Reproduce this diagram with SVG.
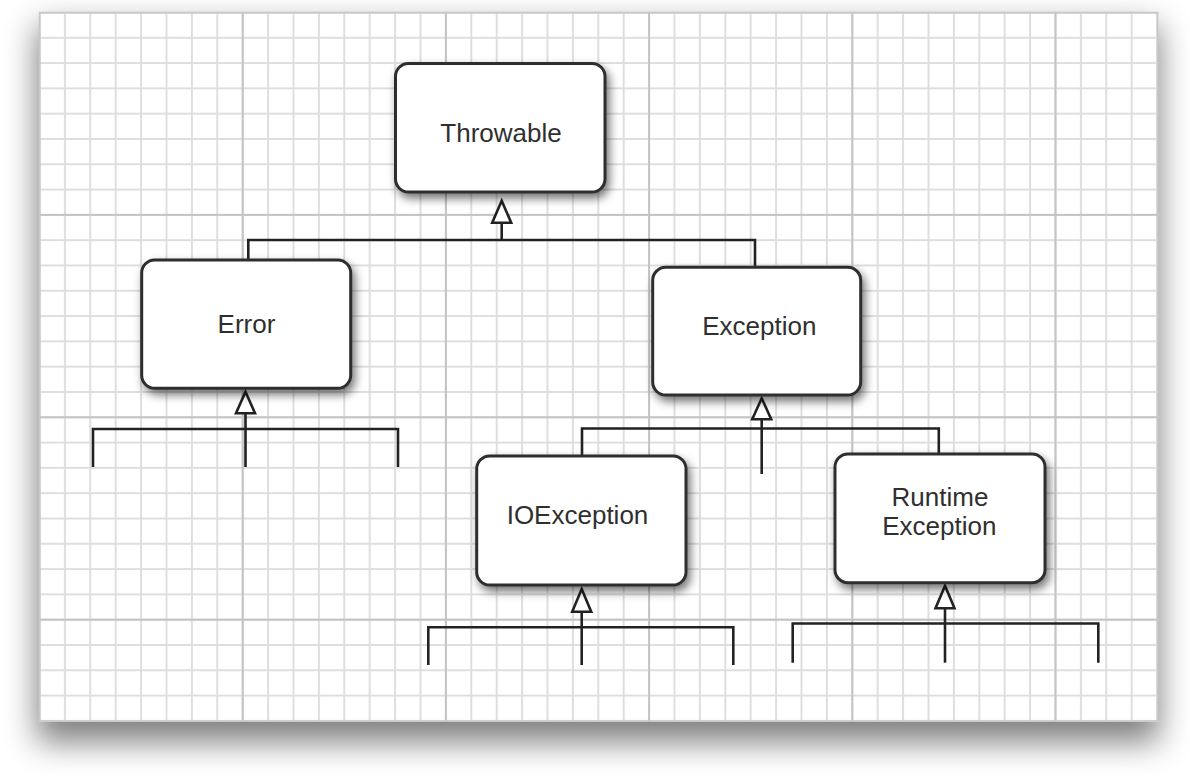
<svg xmlns="http://www.w3.org/2000/svg" width="1190" height="780" viewBox="0 0 1190 780">
  <defs>
    <filter id="paperShadow" x="-10%" y="-15%" width="120%" height="130%">
      <feGaussianBlur stdDeviation="16"/>
    </filter>
    <filter id="nodeShadow" x="-20%" y="-20%" width="145%" height="150%">
      <feDropShadow dx="3" dy="5" stdDeviation="5" flood-color="#000" flood-opacity="0.55"/>
    </filter>
    <pattern id="minorGrid" patternUnits="userSpaceOnUse" x="38.5" y="11.5" width="25.4" height="25.3">
      <path d="M1 0V25.3M0 1H25.4" stroke="#dedede" stroke-width="2" fill="none"/>
    </pattern>
    <pattern id="majorGrid" patternUnits="userSpaceOnUse" x="38.5" y="11.5" width="203.2" height="202.4">
      <path d="M1 0V202.4M0 1H203.2" stroke="#c4c4c4" stroke-width="2" fill="none"/>
    </pattern>
  </defs>
  <style>
    .box { fill: #ffffff; stroke: #2e2e2e; stroke-width: 3; filter: url(#nodeShadow); }
    .label { font-family: "Liberation Sans", Arial, sans-serif; font-size: 26px; fill: #2f2f2f; text-anchor: middle; }
    .wire { fill: none; stroke: #222222; stroke-width: 2.6; }
    .head { fill: #ffffff; stroke: #222222; stroke-width: 2.6; stroke-linejoin: miter; }
  </style>

  <!-- background and graph paper -->
  <rect width="1190" height="780" fill="#ffffff"/>
  <rect x="37" y="26" width="1122" height="716" fill="#000" opacity="0.5" filter="url(#paperShadow)"/>
  <rect id="paper" x="39.5" y="12.5" width="1118" height="708.5" fill="#ffffff"/>
  <rect x="39.5" y="12.5" width="1119" height="709.5" fill="url(#minorGrid)"/>
  <rect x="39.5" y="12.5" width="1119" height="709.5" fill="url(#majorGrid)"/>
  <rect x="39.5" y="12.5" width="1118" height="708.5" fill="none" stroke="#c8c8c8" stroke-width="1.5"/>

  <!-- inheritance connectors -->
  <g id="connectors">
    <!-- Error / Exception -> Throwable -->
    <path class="wire" d="M248.3 260V240H755V267.3"/>
    <path class="wire" d="M501.7 240V222.7"/>
    <polygon class="head" points="501.7,200.7 511.2,222.7 492.2,222.7"/>

    <!-- subclasses -> Error -->
    <path class="wire" d="M93 467V429H398V467"/>
    <path class="wire" d="M245.5 467V413.3"/>
    <polygon class="head" points="245.5,391.7 255,413.3 236,413.3"/>

    <!-- IOException / RuntimeException -> Exception -->
    <path class="wire" d="M582 456V428.5H938.8V454"/>
    <path class="wire" d="M761.7 474V419.3"/>
    <polygon class="head" points="761.7,398.3 771.2,419.3 752.2,419.3"/>

    <!-- subclasses -> IOException -->
    <path class="wire" d="M428.3 665V627.3H733.3V665"/>
    <path class="wire" d="M581.7 665V611.7"/>
    <polygon class="head" points="581.7,589 591.2,611.7 572.2,611.7"/>

    <!-- subclasses -> RuntimeException -->
    <path class="wire" d="M792.7 662.7V623.5H1098.3V662.7"/>
    <path class="wire" d="M945 662.7V608.3"/>
    <polygon class="head" points="945,585.8 954.5,608.3 935.5,608.3"/>
  </g>

  <g id="throwable">
    <rect class="box" x="395.5" y="63.5" width="209.5" height="128.5" rx="13"/>
    <text class="label" x="501" y="142">Throwable</text>
  </g>

  <g id="error">
    <rect class="box" x="141.7" y="260" width="209" height="128.3" rx="13"/>
    <text class="label" x="246.5" y="332.5">Error</text>
  </g>

  <g id="exception">
    <rect class="box" x="652.7" y="267.3" width="208" height="127.7" rx="13"/>
    <text class="label" x="759.3" y="335">Exception</text>
  </g>

  <g id="ioexception">
    <rect class="box" x="476.7" y="456" width="209.3" height="129" rx="13"/>
    <text class="label" x="577.5" y="523.5">IOException</text>
  </g>

  <g id="runtimeexception">
    <rect class="box" x="835" y="454" width="210" height="128.7" rx="13"/>
    <text class="label" x="940" y="506">Runtime</text>
    <text class="label" x="939.3" y="535">Exception</text>
  </g>
</svg>
